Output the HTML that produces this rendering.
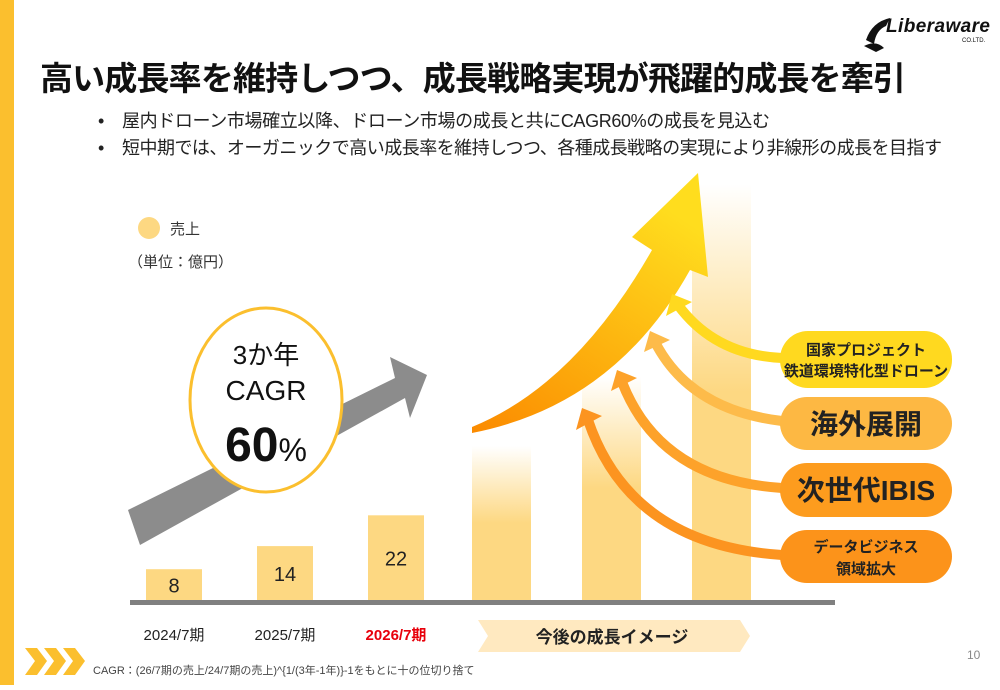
<!DOCTYPE html>
<html><head><meta charset="utf-8">
<style>
body{margin:0;width:1000px;height:685px;overflow:hidden;background:#fff;font-family:"Liberation Sans","Noto Sans CJK JP",sans-serif;}
svg text{font-family:"Liberation Sans","Noto Sans CJK JP",sans-serif;}
</style></head>
<body>
<svg width="1000" height="685" viewBox="0 0 1000 685" xmlns="http://www.w3.org/2000/svg" id="chart">
<defs>
<linearGradient id="fade" x1="0" y1="1" x2="0" y2="0"><stop offset="0" stop-color="#FDD882"/><stop offset="0.5" stop-color="#FDD882"/><stop offset="1" stop-color="#FDD882" stop-opacity="0"/></linearGradient>
<linearGradient id="bigArrow" x1="0" y1="1" x2="0.6" y2="0"><stop offset="0" stop-color="#FB8A00"/><stop offset="1" stop-color="#FFDD1E"/></linearGradient>
</defs>
<rect x="0" y="0" width="14" height="685" fill="#FBBF2E"/>
<g>
<path d="M866 40 Q872 22 890 18 L886 26 Q876 30 874 44 Z M864 46 Q876 40 884 48 L876 52 Z" fill="#111"/>
<text x="886" y="32" font-size="19" font-weight="bold" font-style="italic" fill="#111" textLength="104">Liberaware</text>
<text x="962" y="42" font-size="6" fill="#111">CO.LTD.</text>
</g>
<text x="40" y="90" font-size="33" font-weight="bold" fill="#111" textLength="866">高い成長率を維持しつつ、成長戦略実現が飛躍的成長を牽引</text>
<text x="98" y="127" font-size="18" fill="#222">•</text>
<text x="122" y="127" font-size="18" fill="#222" textLength="648">屋内ドローン市場確立以降、ドローン市場の成長と共にCAGR60%の成長を見込む</text>
<text x="98" y="154" font-size="18" fill="#222">•</text>
<text x="122" y="154" font-size="18" fill="#222" textLength="820">短中期では、オーガニックで高い成長率を維持しつつ、各種成長戦略の実現により非線形の成長を目指す</text>
<circle cx="149" cy="228" r="11" fill="#FDD882"/>
<text x="170" y="234" font-size="15" fill="#333">売上</text>
<text x="128" y="267" font-size="15" fill="#333">（単位：億円）</text>
<g id="future-bars"></g>
<polygon points="128,510 395,378 390,357 427,375 410,418 405,398 140,545" fill="#8C8C8C"/>
<ellipse cx="266" cy="400" rx="76" ry="92" fill="#fff" stroke="#FBBF2E" stroke-width="3"/>
<text x="266" y="364" font-size="26" text-anchor="middle" fill="#111">3か年</text>
<text x="266" y="400" font-size="28" text-anchor="middle" fill="#111">CAGR</text>
<text x="266" y="461" font-size="48" font-weight="bold" text-anchor="middle" fill="#111">60<tspan font-size="32" font-weight="normal">%</tspan></text>
<g id="bars"></g>
<path d="M472 433 Q615 405 690 270 L708 277 L698 173 L632 237 L652 250 Q575 385 472 427 Z" fill="url(#bigArrow)"/>
<g fill="none" stroke-width="10">
<path d="M782 358 Q715 355 678 305" stroke="#FFD91F"/>
<path d="M782 421 Q690 410 655 342" stroke="#FDBB4A"/>
<path d="M782 488 Q660 480 622 382" stroke="#FDA22A"/>
<path d="M782 555 Q630 545 588 420" stroke="#FC9420"/>
</g>
<polygon points="672,294 692,302 666,316" fill="#FFD91F"/>
<polygon points="650,331 670,340 644,352" fill="#FDBB4A"/>
<polygon points="617,370 637,378 611,391" fill="#FDA22A"/>
<polygon points="582,408 602,416 576,430" fill="#FC9420"/>
<g><rect x="780" y="331" width="172" height="57" rx="28" fill="#FFD91F"/><text x="866" y="355" font-size="15" font-weight="bold" text-anchor="middle" fill="#222">国家プロジェクト</text><text x="866" y="376" font-size="15" font-weight="bold" text-anchor="middle" fill="#222">鉄道環境特化型ドローン</text></g>
<g><rect x="780" y="397" width="172" height="53" rx="27" fill="#FDB843"/><text x="866" y="434" font-size="28" font-weight="bold" text-anchor="middle" fill="#222">海外展開</text></g>
<g><rect x="780" y="463" width="172" height="54" rx="27" fill="#FD9C1E"/><text x="866" y="500" font-size="28" font-weight="bold" text-anchor="middle" fill="#222">次世代IBIS</text></g>
<g><rect x="780" y="530" width="172" height="53" rx="27" fill="#FC931A"/><text x="866" y="552" font-size="15" font-weight="bold" text-anchor="middle" fill="#222">データビジネス</text><text x="866" y="574" font-size="15" font-weight="bold" text-anchor="middle" fill="#222">領域拡大</text></g>
<rect x="130" y="600" width="705" height="5" fill="#808080"/>
<g id="xlabels"></g>
<polygon points="478,620 740,620 750,636 740,652 478,652 488,636" fill="#FFE9C0"/>
<text x="612" y="643" font-size="17" font-weight="bold" text-anchor="middle" fill="#222">今後の成長イメージ</text>
<g fill="#FBBF2E">
<polygon points="25,648 37,648 47,661 37,675 25,675 35,661"/>
<polygon points="44,648 56,648 66,661 56,675 44,675 54,661"/>
<polygon points="63,648 75,648 85,661 75,675 63,675 73,661"/>
</g>
<text x="93" y="674" font-size="11" fill="#444">CAGR：(26/7期の売上/24/7期の売上)^{1/(3年-1年)}-1をもとに十の位切り捨て</text>
<text x="967" y="659" font-size="12" fill="#888">10</text>
</svg>
<script>
const categories=["2024/7期","2025/7期","2026/7期"];
const salesValues=[8,14,22];
const futureLevels=[40,58,108];
const NS="http://www.w3.org/2000/svg";
const baseY=600, unit=3.85;
function yScale(v){return baseY-v*unit;}
function xCenter(i){return 174+i*111;}
const barsG=document.getElementById('bars');
const labG=document.getElementById('xlabels');
const futG=document.getElementById('future-bars');
salesValues.forEach((v,i)=>{
  const r=document.createElementNS(NS,'rect');
  r.setAttribute('x',xCenter(i)-28);r.setAttribute('width',56);
  r.setAttribute('y',yScale(v));r.setAttribute('height',baseY-yScale(v));
  r.setAttribute('fill','#FDD882');
  
  
  barsG.appendChild(r);
  const t=document.createElementNS(NS,'text');
  t.setAttribute('x',xCenter(i));t.setAttribute('y',(yScale(v)+baseY)/2+8);
  t.setAttribute('font-size','20');t.setAttribute('text-anchor','middle');t.setAttribute('fill','#222');
  t.textContent=v;
  
  
  barsG.appendChild(t);
  const l=document.createElementNS(NS,'text');
  l.setAttribute('x',xCenter(i));l.setAttribute('y',640);
  l.setAttribute('font-size','15');l.setAttribute('text-anchor','middle');
  l.setAttribute('fill',i===2?'#E8000B':'#222');
  if(i===2)l.setAttribute('font-weight','bold');
  l.textContent=categories[i];
  
  
  labG.appendChild(l);
});
futureLevels.forEach((v,i)=>{
  const r=document.createElementNS(NS,'rect');
  const x=472+i*110;
  r.setAttribute('x',x);r.setAttribute('width',59);
  r.setAttribute('y',yScale(v));r.setAttribute('height',baseY-yScale(v));
  r.setAttribute('fill','url(#fade)');
  
  
  futG.appendChild(r);
});
</script>
</body></html>
